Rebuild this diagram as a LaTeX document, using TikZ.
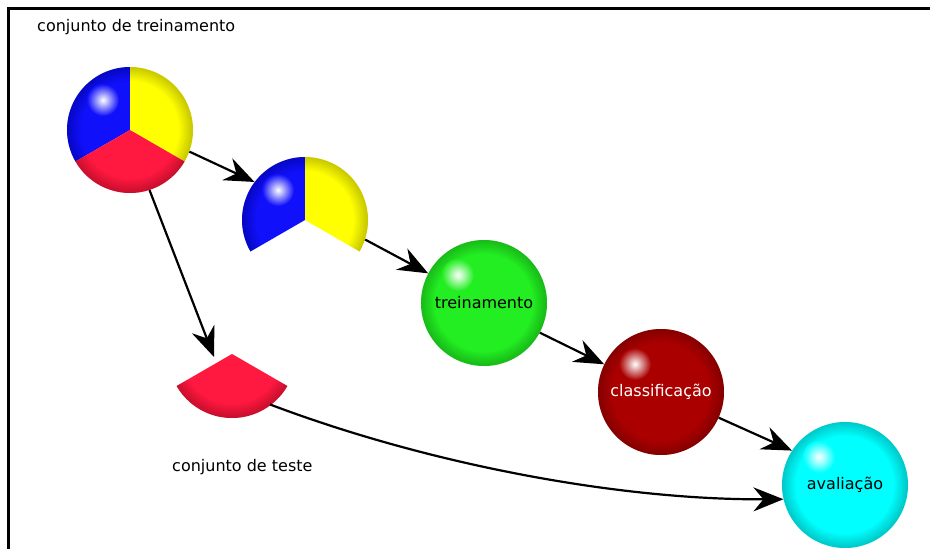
\documentclass[tikz,border=0pt]{standalone}
\usepackage{fontspec}
\newfontfamily\labelfont{DejaVu Sans}
\usetikzlibrary{arrows.meta,calc}

\definecolor{pieblue}{RGB}{16,16,250}
\definecolor{pieyellow}{RGB}{255,255,0}
\definecolor{piered}{RGB}{255,24,64}
\definecolor{ballgreen}{RGB}{34,238,34}
\definecolor{balldarkred}{RGB}{170,0,0}
\definecolor{ballcyan}{RGB}{0,255,255}

% soft darkening towards the rim: stacked translucent rings (clipped by the caller)
\newcommand\rimdarken[2]{%
  \foreach \w in {3,6,...,27}
    \draw[black, opacity=.025, line width=\w pt] #1 circle (#2);%
}

\tikzset{
  txt/.style={font=\labelfont\fontsize{16}{19}\selectfont},
  link/.style={draw=black, line width=2.2pt, -{Stealth[length=30pt,width=24pt,inset=10pt]}},
  setnode/.style={circle, minimum size=126pt, inner sep=0pt},
  ball/.style={setnode, fill=#1, txt,
    path picture={
      \rimdarken{(path picture bounding box.center)}{63pt}
      \shade[inner color=white, outer color=#1] ($(path picture bounding box.center)+(-26pt,28pt)$) circle (16pt);
    }},
  caption/.style={anchor=west, inner sep=0pt, txt},
}

\begin{document}
\begin{tikzpicture}[x=1pt, y=-1pt]
\useasboundingbox (0,0) rectangle (930,549);
\fill[white] (0,0) rectangle (930,549);
\draw[line width=3pt] (8,549) -- (8,8) -- (930,8);

% set nodes
\node[setnode] (p1) at (130,130) {};
\node[setnode] (p2) at (305,220) {};
\node[setnode] (rw) at (232,354) {};
\coordinate (rwtip) at (214,357);
\node[ball=ballgreen] (tr) at (484,303) {treinamento};
\node[ball=balldarkred, text=white] (cl) at (661,392) {classificação};
\node[ball=ballcyan] (av) at (845,485) {avaliação};

\node[caption] (lbltrain) at (37,27) {conjunto de treinamento};
\node[caption] (lbltest) at (172,467) {conjunto de teste};

% full training set
\begin{scope}[shift={(p1.center)}, y=1pt]
  \fill[pieblue] (0,0) -- (90:63) arc[start angle=90, end angle=210, radius=63] -- cycle;
  \fill[pieyellow] (0,0) -- (-30:63) arc[start angle=-30, end angle=90, radius=63] -- cycle;
  \fill[piered] (0,0) -- (210:63) arc[start angle=210, end angle=330, radius=63] -- cycle;
  \begin{scope}
    \clip (0,0) circle (63);
    \rimdarken{(0,0)}{63}
  \end{scope}
  \shade[inner color=white, outer color=pieblue] (-27,30) circle (16);
\end{scope}

% two thirds used for training
\begin{scope}[shift={(p2.center)}, y=1pt]
  \fill[pieblue] (0,0) -- (90:63) arc[start angle=90, end angle=210, radius=63] -- cycle;
  \fill[pieyellow] (0,0) -- (-30:63) arc[start angle=-30, end angle=90, radius=63] -- cycle;
  \begin{scope}
    \clip (0,0) -- (-30:63) arc[start angle=-30, end angle=210, radius=63] -- cycle;
    \rimdarken{(0,0)}{63}
  \end{scope}
  \shade[inner color=white, outer color=pieblue] (-27,30) circle (16);
\end{scope}

% one third kept for testing
\begin{scope}[shift={(rw.center)}, y=1pt]
  \fill[piered] (0,0) -- (210:64) arc[start angle=210, end angle=330, radius=64] -- cycle;
  \begin{scope}
    \clip (0,0) -- (210:64) arc[start angle=210, end angle=330, radius=64] -- cycle;
    \rimdarken{(0,0)}{64}
  \end{scope}
\end{scope}

% connectors
\draw[link] (p1.-20) -- (p2.143);
\draw[link] (p1.-72) -- (rwtip);
\draw[link] (p2.-18) -- (tr.152);
\draw[link] (tr.-28) -- (cl.154);
\draw[link] (cl.-24) -- (av.147);
\draw[link] (rw.-53) .. controls (430,465) and (620,500) .. (av.193);
\end{tikzpicture}
\end{document}
